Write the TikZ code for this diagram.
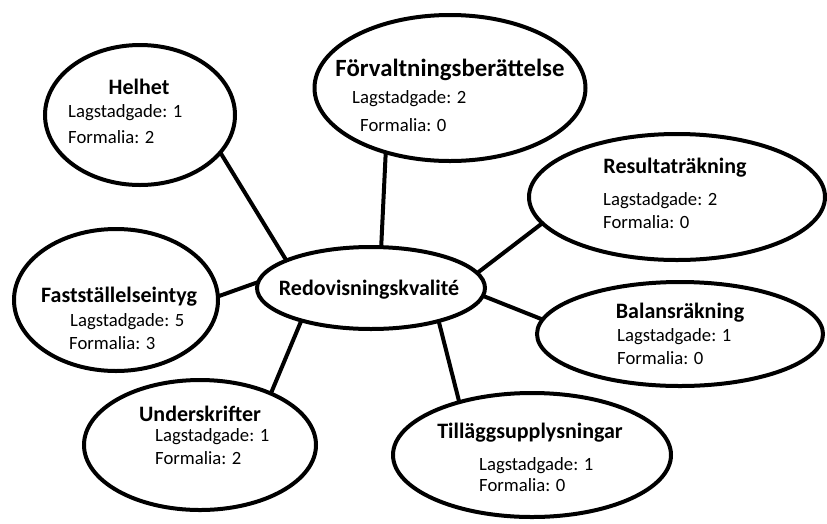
\documentclass[tikz,border=0pt]{standalone}
\usepackage{fontspec}
\setmainfont{Carlito}
\usetikzlibrary{shapes.geometric}
\begin{document}
\begin{tikzpicture}[x=1pt,y=-1pt,
  bubble/.style={ellipse, draw=black, line width=4pt, inner sep=0pt, outer sep=0pt, fill=white},
  title/.style={font=\fontsize{22}{26}\selectfont\bfseries, inner sep=0pt},
  bigtitle/.style={font=\fontsize{24.8}{29}\selectfont\bfseries, inner sep=0pt},
  body/.style={font=\fontsize{18.7}{22}\selectfont, anchor=west, inner sep=0pt},
  link/.style={line width=4pt}]
\useasboundingbox (0,0) rectangle (827,523);
\node[bubble, minimum width=190pt, minimum height=140pt] (helhet) at (140,115) {};
\node[bubble, minimum width=271pt, minimum height=146pt] (forv) at (450,88) {};
\node[bubble, minimum width=296pt, minimum height=126pt] (result) at (677,197) {};
\node[bubble, minimum width=228pt, minimum height=82pt] (redo) at (371,288) {};
\node[bubble, minimum width=204pt, minimum height=142pt] (fast) at (116,300) {};
\node[bubble, minimum width=286pt, minimum height=104pt] (balans) at (680,334) {};
\node[bubble, minimum width=232pt, minimum height=130pt] (under) at (200,445) {};
\node[bubble, minimum width=278pt, minimum height=124pt] (tillagg) at (532,455) {};

\draw[link] (helhet.-25.7) -- (redo.162.5);
\draw[link] (forv.225.7) -- (redo.76);
\draw[link] (result.191) -- (redo.8);
\draw[link] (balans.174) -- (redo.-4);
\draw[link] (tillagg.144.6) -- (redo.-26.4);
\draw[link] (under.36.5) -- (redo.205.8);
\draw[link] (fast.2) -- (redo.177);

\node[title] (t1) at (139,87) {Helhet};
\node[body] (h1) at (68,113) {Lagstadgade: 1};
\node[body] (h2) at (68,137) {Formalia: 2};

\node[bigtitle] (t2) at (450,70) {Förvaltningsberättelse};
\node[body] (f1) at (352,99) {Lagstadgade: 2};
\node[body] (f2) at (360,125) {Formalia: 0};

\node[title] (t3) at (675,168) {Resultaträkning};
\node[body] (r1) at (603,201) {Lagstadgade: 2};
\node[body] (r2) at (603,222) {Formalia: 0};

\node[title] (t4) at (119,297) {Fastställelseintyg};
\node[body] (s1) at (70,322) {Lagstadgade: 5};
\node[body] (s2) at (69,343) {Formalia: 3};

\node[title] (t5) at (369,290) {Redovisningskvalité};

\node[title] (t6) at (680,313) {Balansräkning};
\node[body] (b1) at (617,337) {Lagstadgade: 1};
\node[body] (b2) at (617,358) {Formalia: 0};

\node[title] (t7) at (200,414) {Underskrifter};
\node[body] (u1) at (155,437) {Lagstadgade: 1};
\node[body] (u2) at (155,458) {Formalia: 2};

\node[title] (t8) at (530,433) {Tilläggsupplysningar};
\node[body] (g1) at (479,466) {Lagstadgade: 1};
\node[body] (g2) at (479,485) {Formalia: 0};
\end{tikzpicture}
\end{document}
